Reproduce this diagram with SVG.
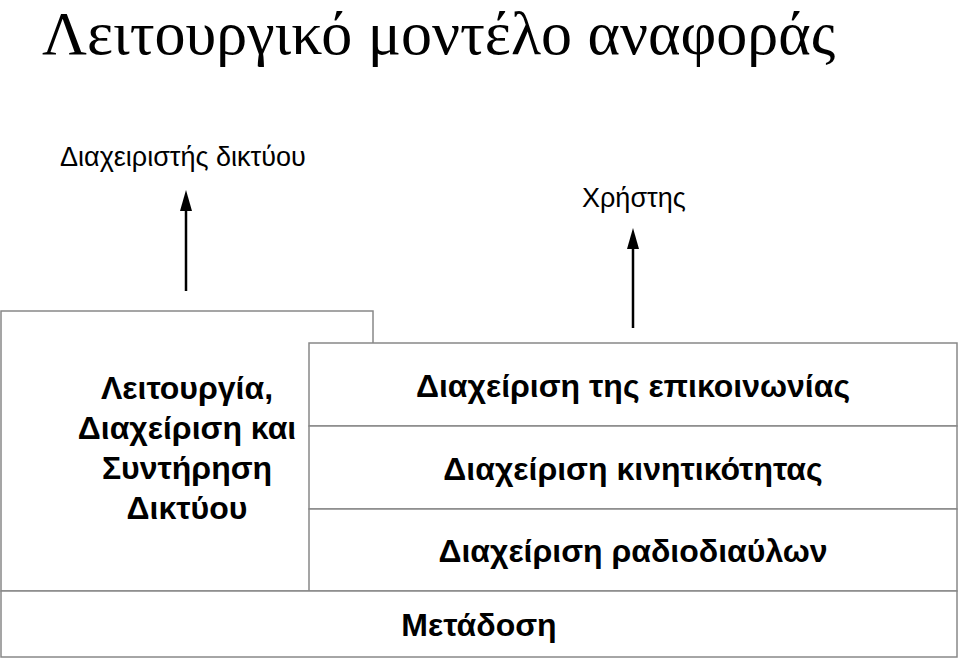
<svg xmlns="http://www.w3.org/2000/svg" width="959" height="660" viewBox="0 0 959 660">
<defs><style>
.b{fill:#fff;stroke:#888;stroke-width:1.5}
.t{font-family:"Liberation Sans",Arial,sans-serif;font-size:32px;font-weight:bold;fill:#000}
.l{font-family:"Liberation Sans",Arial,sans-serif;font-size:27px;fill:#000}
</style></defs>
<rect width="959" height="660" fill="#fff"/>
<text x="42" y="54" font-family="Liberation Serif,serif" font-size="62">Λειτουργικό μοντέλο αναφοράς</text>
<g id="lbl-admin"><text class="l" x="60" y="166">Διαχειριστής δικτύου</text></g>
<g id="lbl-user"><text class="l" x="582" y="207">Χρήστης</text></g>
<g id="n-oam"><rect class="b" x="1" y="311" width="372" height="280"/>
<text class="t" text-anchor="middle" x="187" y="399">Λειτουργία,</text>
<text class="t" text-anchor="middle" x="187" y="439">Διαχείριση και</text>
<text class="t" text-anchor="middle" x="187" y="479">Συντήρηση</text>
<text class="t" text-anchor="middle" x="187" y="519">Δικτύου</text></g>
<g id="n-comm"><rect class="b" x="309" y="343" width="648" height="83"/><text class="t" text-anchor="middle" x="633" y="397">Διαχείριση της επικοινωνίας</text></g>
<g id="n-mob"><rect class="b" x="309" y="426" width="648" height="83"/><text class="t" text-anchor="middle" x="633" y="480">Διαχείριση κινητικότητας</text></g>
<g id="n-radio"><rect class="b" x="309" y="509" width="648" height="82"/><text class="t" text-anchor="middle" x="633" y="562">Διαχείριση ραδιοδιαύλων</text></g>
<g id="n-trans"><rect class="b" x="1" y="591" width="956" height="66"/><text class="t" text-anchor="middle" x="479" y="636">Μετάδοση</text></g>
<g id="connectors" stroke="#000" stroke-width="2.5">
<line x1="186" y1="291" x2="186" y2="205"/>
<polygon points="186,190 180,211 192,211" fill="#000" stroke="none"/>
<line x1="633" y1="328" x2="633" y2="243"/>
<polygon points="633,228 627,249 639,249" fill="#000" stroke="none"/>
</g>
</svg>
